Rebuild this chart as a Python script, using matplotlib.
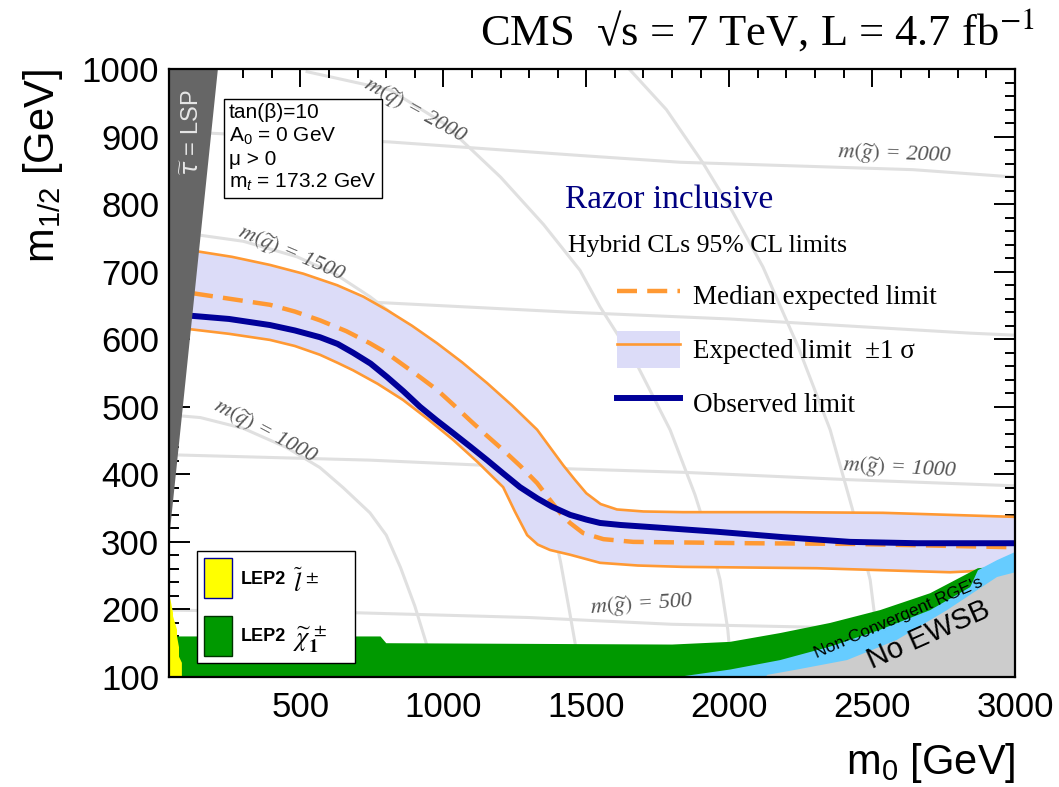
import matplotlib
matplotlib.use('Agg')
import matplotlib.pyplot as plt
from matplotlib.lines import Line2D
from matplotlib.patches import Patch
from matplotlib.font_manager import FontProperties

plt.rcParams['font.family'] = ['Liberation Sans', 'DejaVu Sans']
plt.rcParams['mathtext.fontset'] = 'custom'
plt.rcParams['mathtext.rm'] = 'Liberation Sans'
plt.rcParams['mathtext.it'] = 'Liberation Sans:italic'
plt.rcParams['mathtext.bf'] = 'Liberation Sans:bold'

# ---- limit curves (m0, m1/2) in GeV ----
obs_x = [110, 250, 393, 480, 568, 630, 684, 745, 803, 860, 918, 976, 1034, 1094, 1153, 1210, 1268,
         1330, 1380, 1443, 1500, 1548, 1620, 1723, 1957, 2188, 2423, 2657, 3000]
obs_y = [635, 630, 621, 613, 603, 593, 580, 564, 544, 523, 500, 480, 461, 441, 421, 401, 381,
         364, 352, 340, 333, 328, 325, 322, 315, 307, 300, 298, 298]

exp_x = [124, 250, 393, 480, 568, 660, 743, 800, 859, 918, 978, 1035, 1093, 1150, 1209, 1270, 1328,
         1373, 1410, 1443, 1489, 1560, 1664, 2073, 2423, 3000]
exp_y = [668, 660, 651, 641, 628, 612, 594, 580, 562, 544, 525, 503, 480, 458, 436, 412, 387,
         362, 342, 328, 313, 304, 300, 298, 297, 292]

up_x = [140, 260, 393, 510, 628, 720, 803, 890, 978, 1065, 1153, 1240, 1328, 1373, 1420, 1460, 1500,
        1550, 1607, 1700, 1838, 2188, 2538, 3000]
up_y = [730, 722, 710, 697, 680, 663, 643, 620, 594, 566, 535, 502, 466, 440, 413, 392, 372,
        356, 348, 345, 344, 344, 343, 337]

lo_x = [110, 250, 393, 480, 568, 630, 684, 770, 859, 945, 1034, 1120, 1209, 1250, 1293, 1330, 1373,
        1443, 1548, 1680, 1838, 2307, 2773, 2870]
lo_y = [615, 608, 599, 590, 577, 565, 554, 534, 510, 482, 451, 418, 381, 345, 310, 296, 288,
        281, 269, 265, 263, 261, 255, 257]

# ---- excluded regions ----
stau_x = [40, 211, 40]
stau_y = [1000, 1000, 303]

lep_sl_x = [40, 45, 54, 54, 68, 68, 75, 75, 85, 85, 40]
lep_sl_y = [215, 215, 195, 190, 170, 160, 144, 130, 121, 100, 100]

lep_ch_x = [40, 780, 800, 1800, 2003, 2178, 2353, 2528, 2703, 2870, 2900, 2900, 40]
lep_ch_y = [160, 160, 150, 148, 152, 165, 180, 199, 224, 261, 262, 100, 100]

rge_x = [1820, 2003, 2178, 2353, 2528, 2703, 2843, 2870, 2937, 3000, 3000]
rge_y = [100, 111, 125, 145, 170, 199, 233, 258, 273, 285, 100]

ewsb_x = [2129, 2132, 2237, 2412, 2587, 2762, 2937, 3000, 3000]
ewsb_y = [100, 103, 111, 125, 155, 199, 248, 255, 100]

# ---- iso-mass lines ----
gluino = {
    500: ([40, 700, 1300, 1800, 2500, 2900], [199, 195, 188, 178, 172, 168]),
    1000: ([40, 743, 1373, 1838, 2423, 3000], [429, 421, 409, 403, 392, 383]),
    1500: ([40, 743, 1443, 2000, 2843, 3000], [668, 655, 640, 630, 609, 606]),
    2000: ([40, 813, 1478, 1828, 2643, 3000], [908, 892, 872, 862, 851, 840]),
}
squark = {
    1000: ([40, 150, 300, 450, 568, 650, 743, 800, 850, 900, 940, 975],
           [488, 484, 468, 440, 410, 380, 343, 310, 262, 205, 150, 100]),
    1500: ([40, 148, 300, 488, 620, 743, 860, 978, 1070, 1153, 1260, 1330, 1380, 1410, 1440, 1465, 1490],
           [760, 754, 745, 722, 697, 663, 625, 580, 542, 500, 450, 400, 330, 270, 200, 140, 100]),
    2000: ([523, 813, 1000, 1200, 1350, 1478, 1548, 1680, 1793, 1880, 1940, 1968, 1995, 2010],
           [996, 969, 920, 840, 770, 702, 648, 560, 466, 370, 290, 244, 170, 100]),
    2500: ([1650, 1780, 1908, 2010, 2118, 2240, 2353, 2430, 2493, 2515, 2520],
           [1000, 940, 861, 790, 707, 590, 466, 350, 244, 170, 100]),
}

orange = '#ff9933'
navy = '#000099'
band_col = '#dcdcf8'

fig = plt.figure(figsize=(10.59, 7.87), dpi=100)
ax = fig.add_axes([0.1596, 0.1398, 0.7989, 0.7725])

for k, (xs, ys) in gluino.items():
    ax.plot(xs, ys, color='#e0e0e0', lw=2.2, zorder=1)
for k, (xs, ys) in squark.items():
    ax.plot(xs, ys, color='#e0e0e0', lw=2.2, zorder=1)

# +-1 sigma band
band_x = up_x + [3000] + lo_x[::-1]
band_y = up_y + [255] + lo_y[::-1]
ax.fill(band_x, band_y, color=band_col, lw=0, zorder=2)
ax.plot(up_x, up_y, color=orange, lw=1.9, zorder=3)
ax.plot(lo_x, lo_y, color=orange, lw=1.9, zorder=3)
ax.plot(exp_x, exp_y, color=orange, lw=3.2, dashes=(4.5, 2.3), zorder=4)
ax.plot(obs_x, obs_y, color=navy, lw=4.3, zorder=5)

ax.fill(lep_ch_x, lep_ch_y, color='#009900', lw=0, zorder=6)
ax.fill(rge_x, rge_y, color='#66ccff', lw=0, zorder=7)
ax.fill(ewsb_x, ewsb_y, color='#cccccc', lw=0, zorder=8)
ax.fill(lep_sl_x, lep_sl_y, color='#ffff00', lw=0, zorder=7)
ax.fill(stau_x, stau_y, color='#666666', lw=0, zorder=6)

# mass labels
lab_kw = dict(color='#555555', fontsize=16, family='Liberation Serif', style='italic',
              math_fontfamily='stix', ha='center', va='center', zorder=2)
ax.text(900, 938, r'$m(\widetilde{q})$ = 2000', rotation=-29, **lab_kw)
ax.text(470, 727, r'$m(\widetilde{q})$ = 1500', rotation=-23, **lab_kw)
ax.text(376, 463, r'$m(\widetilde{q})$ = 1000', rotation=-28, **lab_kw)
ax.text(2580, 873, r'$m(\widetilde{g})$ = 2000', rotation=-2, **lab_kw)
ax.text(2598, 408, r'$m(\widetilde{g})$ = 1000', rotation=-3, **lab_kw)
ax.text(1692, 207, r'$m(\widetilde{g})$ = 500', rotation=4, **lab_kw)

ax.text(122, 905, r'$\widetilde{\tau}$ = LSP', rotation=90, color='#e6e6e6', fontsize=17,
        ha='center', va='center', math_fontfamily='dejavusans', zorder=9)
ax.text(2591, 187, "Non-Convergent RGE's", rotation=23.5, fontsize=12.5,
        ha='center', va='center', zorder=9)
ax.text(2696, 162, 'No EWSB', rotation=24, fontsize=21, ha='center', va='center', zorder=9)

# parameter box
ax.text(0.071, 0.944, 'tan(β)=10\nA$_0$ = 0 GeV\nμ > 0\nm$_t$ = 173.2 GeV',
        transform=ax.transAxes, fontsize=15, linespacing=1.2, va='top', ha='left',
        bbox=dict(boxstyle='square,pad=0.25', fc='white', ec='black', lw=1), zorder=10)

# analysis label
ax.text(0.468, 0.771, 'Razor inclusive', transform=ax.transAxes, fontsize=24,
        family='Liberation Serif', color='#000080', zorder=10)
ax.text(0.4716, 0.699, 'Hybrid CLs 95% CL limits', transform=ax.transAxes, fontsize=18.5,
        family='Liberation Serif', zorder=10)

h_exp = Line2D([], [], color=orange, lw=3.2, dashes=(4.5, 2.3))
h_band = (Patch(facecolor=band_col, lw=0), Line2D([], [], color=orange, lw=1.9))
h_obs = Line2D([], [], color=navy, lw=4.3)
leg = ax.legend([h_exp, h_band, h_obs],
                ['Median expected limit', 'Expected limit  ±1 σ', 'Observed limit'],
                loc='upper left', bbox_to_anchor=(0.5296, 0.658), frameon=False,
                prop=FontProperties(family=['Liberation Serif', 'DejaVu Serif'], size=19.5),
                handlelength=2.34, handletextpad=0.47, handleheight=1.73,
                labelspacing=0.62, borderpad=0, borderaxespad=0)
leg.set_zorder(10)
ax.add_artist(leg)

# LEP2 legend, expanded to the box width of the original
h_sl = Patch(facecolor='#ffff00', edgecolor='#000099', lw=1)
h_ch = Patch(facecolor='#009900', edgecolor='#003300', lw=1)
leg2 = ax.legend([h_sl, h_ch], ['LEP2', 'LEP2'],
                 loc='lower left', bbox_to_anchor=(0.0331, 0.023, 0.1868, 0.191), mode='expand',
                 prop=FontProperties(family='Liberation Sans', weight='bold', size=13),
                 handlelength=1.55, handleheight=3.0, handletextpad=0.45, labelspacing=1.0,
                 borderpad=0.4, borderaxespad=0, fancybox=False, framealpha=1,
                 edgecolor='black')
leg2.get_frame().set_linewidth(1)
leg2.set_zorder(10)
sym_kw = dict(transform=ax.transAxes, fontsize=19, math_fontfamily='stix', va='center',
              ha='left', zorder=11)
ax.text(0.146, 0.155, r'$\widetilde{l}^{\,\pm}$', **sym_kw)
ax.text(0.146, 0.062, r'$\widetilde{\chi}^{\,\pm}_{\mathbf{1}}$', **sym_kw)

ax.set_xlim(40, 3000)
ax.set_ylim(100, 1000)
ax.set_xticks([500, 1000, 1500, 2000, 2500, 3000])
ax.set_xticks(range(100, 3001, 100), minor=True)
ax.set_yticks(range(100, 1001, 100))
ax.set_yticks(range(100, 1001, 20), minor=True)
ax.tick_params(which='both', direction='in', top=True, right=True, width=1.4, labelsize=25, zorder=11)
ax.tick_params(axis='x', which='major', length=13, pad=10)
ax.tick_params(axis='x', which='minor', length=6.5)
ax.tick_params(axis='y', which='major', length=15, pad=7)
ax.tick_params(axis='y', which='minor', length=7.5)
for s in ax.spines.values():
    s.set_linewidth(1.6)
    s.set_zorder(11)

ax.set_xlabel('m$_0$ [GeV]', fontsize=30, loc='right', labelpad=12)
ax.set_ylabel('m$_{1/2}$ [GeV]', fontsize=30, loc='top', labelpad=12)

fig.text(1035 / 1059, 1 - 45 / 787, 'CMS  √s = 7 TeV, L = 4.7 fb$^{-1}$',
         family=['Liberation Serif', 'DejaVu Serif'], fontsize=32, math_fontfamily='stix',
         ha='right', va='baseline')

fig.savefig('out.png', dpi=100)
